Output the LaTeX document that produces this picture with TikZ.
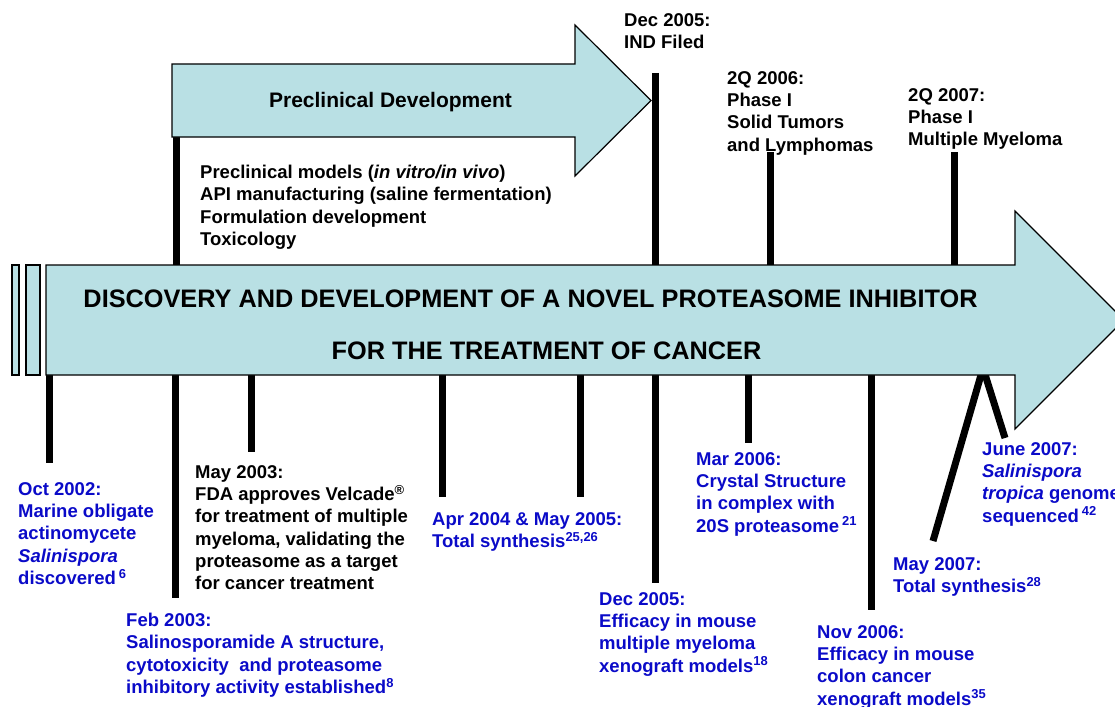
\documentclass[tikz,border=0pt]{standalone}
\usepackage{fontspec}
\setmainfont{Liberation Sans}
\usepackage{xcolor}
\usepackage{tikz}
\usetikzlibrary{positioning}
\definecolor{stagefill}{RGB}{185,224,228}
\definecolor{findblue}{RGB}{10,10,200}

\begin{document}
\begin{tikzpicture}[
    x=1pt, y=-1pt,
    font=\bfseries\fontsize{18.5}{22.3}\selectfont,
    stage/.style={draw, line width=1.2pt, fill=stagefill, line join=miter},
    event/.style={align=left, inner sep=0pt, anchor=north west},
    finding/.style={event, text=findblue},
    bar/.style={line width=7pt},
    titlefont/.style={font=\bfseries\fontsize{25.3}{29}\selectfont}
]
\useasboundingbox (0,0) rectangle (1115,706);

% bar ends
\coordinate (pre-a) at (176,130);  \coordinate (pre-b) at (176,270);
\coordinate (ind-a) at (655,73);   \coordinate (ind-b) at (655,270);
\coordinate (p06-a) at (770,152);  \coordinate (p06-b) at (770,270);
\coordinate (p07-a) at (954,152);  \coordinate (p07-b) at (954,270);
\coordinate (oct-a) at (49,370);   \coordinate (oct-b) at (49,463);
\coordinate (feb-a) at (175,370);  \coordinate (feb-b) at (175,598);
\coordinate (may-a) at (251,370);  \coordinate (may-b) at (251,452);
\coordinate (apr-a) at (442,370);  \coordinate (apr-b) at (442,497);
\coordinate (syn-a) at (580,370);  \coordinate (syn-b) at (580,497);
\coordinate (dec-a) at (655,370);  \coordinate (dec-b) at (655,583);
\coordinate (mar-a) at (748,370);  \coordinate (mar-b) at (748,443);
\coordinate (nov-a) at (871,370);  \coordinate (nov-b) at (871,610);
\coordinate (top07) at (983,368);
\coordinate (my07-b) at (933,541);
\coordinate (jn07-b) at (1005,438);

\draw[bar] (pre-a) -- (pre-b);
\draw[bar] (ind-a) -- (ind-b);
\draw[bar] (p06-a) -- (p06-b);
\draw[bar] (p07-a) -- (p07-b);
\draw[bar] (oct-a) -- (oct-b);
\draw[bar] (feb-a) -- (feb-b);
\draw[bar] (may-a) -- (may-b);
\draw[bar] (apr-a) -- (apr-b);
\draw[bar] (syn-a) -- (syn-b);
\draw[bar] (dec-a) -- (dec-b);
\draw[bar] (mar-a) -- (mar-b);
\draw[bar] (nov-a) -- (nov-b);
\draw[bar] (top07) -- (my07-b);
\draw[bar] (top07) -- (jn07-b);

% arrows
\draw[stage] (12,265) rectangle (19,375);
\draw[stage] (26,265) rectangle (40,375);
\draw[stage] (46,265) -- (1015,265) -- (1015,211) -- (1124,320) -- (1015,429) -- (1015,375) -- (46,375) -- cycle;
\draw[stage] (172,64) -- (575,64) -- (575,25) -- (651,100.5) -- (575,176) -- (575,137) -- (172,137) -- cycle;

\node[titlefont] (title) at (530.5,299) {DISCOVERY AND DEVELOPMENT OF A NOVEL PROTEASOME INHIBITOR};
\node[titlefont] (titleb) at (546.5,351) {FOR THE TREATMENT OF CANCER};
\node[font=\bfseries\fontsize{21}{25}\selectfont, anchor=base] (preclin) at (390.5,108) {Preclinical Development};

\node[event] (tasks) at (200,165) {Preclinical models (\textit{in vitro/in vivo})\\API manufacturing (saline fermentation)\\Formulation development\\Toxicology};
\node[event] (ind) at (624,13) {Dec 2005:\\IND Filed};
\node[event] (phase06) at (727,71) {2Q 2006:\\Phase I\\Solid Tumors\\and Lymphomas};
\node[event] (phase07) at (908,88) {2Q 2007:\\Phase I\\Multiple Myeloma};

\node[finding] (oct02) at (18,482) {Oct 2002:\\Marine obligate\\actinomycete\\\textit{Salinispora}\\discovered\,\textsuperscript{6}};
\node[event] (may03) at (195,465) {May 2003:\\FDA approves Velcade\textsuperscript{®}\\for treatment of multiple\\myeloma, validating the\\proteasome as a target\\for cancer treatment};
\node[finding] (feb03) at (126,613) {Feb 2003:\\Salinosporamide A structure,\\cytotoxicity \ and proteasome\\inhibitory activity established\textsuperscript{8}};
\node[finding] (apr04) at (432,512) {Apr 2004 \& May 2005:\\Total synthesis\textsuperscript{25,26}};
\node[finding] (dec05) at (599,592) {Dec 2005:\\Efficacy in mouse\\multiple myeloma\\xenograft models\textsuperscript{18}};
\node[finding] (mar06) at (696,452) {Mar 2006:\\Crystal Structure\\in complex with\\20S proteasome\,\textsuperscript{21}};
\node[finding] (nov06) at (817,625) {Nov 2006:\\Efficacy in mouse\\colon cancer\\xenograft models\textsuperscript{35}};
\node[finding] (may07) at (893,557) {May 2007:\\Total synthesis\textsuperscript{28}};
\node[finding] (jun07) at (982,442) {June 2007:\\\textit{Salinispora}\\\textit{tropica} genome\\sequenced\,\textsuperscript{42}};
\end{tikzpicture}
\end{document}
